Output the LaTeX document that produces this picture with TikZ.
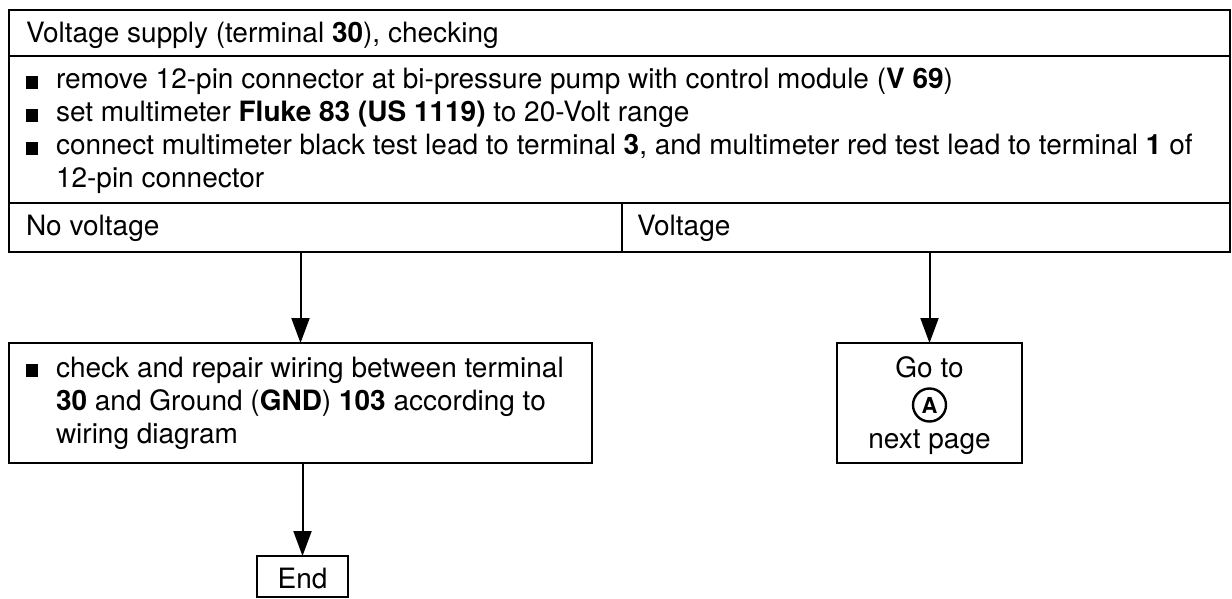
\documentclass[tikz,border=0pt]{standalone}
\usepackage{fontspec}
\setmainfont{TeX Gyre Heros}
\usetikzlibrary{arrows.meta}
\newcommand\blt{\rule{6pt}{6.4pt}\hspace{9pt}}
\begin{document}
\begin{tikzpicture}[x=0.5pt,y=-0.5pt,
  box/.style={draw, line width=1pt, inner sep=0pt, outer sep=0pt},
  txt/.style={inner sep=0pt, outer sep=0pt, anchor=base west, font=\fontsize{14}{16}\selectfont},
  ctxt/.style={inner sep=0pt, outer sep=0pt, anchor=base, font=\fontsize{14}{16}\selectfont},
  arr/.style={line width=1pt, -{Triangle[length=12.5pt,width=9pt]}}]
\useasboundingbox (0,0) rectangle (1232,599);
% boxes (x1,y1)-(x2,y2) in px
\node[box, minimum width=610.5pt, minimum height=23pt] (title) at (619.5,33) {};
\node[box, minimum width=610.5pt, minimum height=73.5pt] (instr) at (619.5,129.5) {};
\node[box, minimum width=306.5pt, minimum height=24.5pt] (nov) at (315.5,227.5) {};
\node[box, minimum width=304pt, minimum height=24.5pt] (vol) at (926,227.5) {};
\node[box, minimum width=291.5pt, minimum height=60pt] (chk) at (300.5,403) {};
\node[box, minimum width=92.5pt, minimum height=60pt] (goto) at (929.5,403) {};
\node[box, minimum width=45.5pt, minimum height=20.5pt] (end) at (302.5,576.5) {};
% texts
\node[txt] (t1) at (26,43) {Voltage supply (terminal \textbf{30}), checking};
\node[txt] (b1) at (26,89) {\blt remove 12-pin connector at bi-pressure pump with control module (\textbf{V 69})};
\node[txt] (b2) at (26,122) {\blt set multimeter \textbf{Fluke 83 (US 1119)} to 20-Volt range};
\node[txt] (b3) at (26,155) {\blt connect multimeter black test lead to terminal \textbf{3}, and multimeter red test lead to terminal \textbf{1} of};
\node[txt] (b3b) at (56,188) {12-pin connector};
\node[txt] (tnov) at (26,235) {No voltage};
\node[txt] (tvol) at (637,235) {Voltage};
\node[txt] (c1) at (26,377) {\blt check and repair wiring between terminal};
\node[txt] (c2) at (56,410) {\textbf{30} and Ground (\textbf{GND}) \textbf{103} according to};
\node[txt] (c3) at (56,443) {wiring diagram};
\node[ctxt] (g1) at (929.5,377) {Go to};
\node[circle, draw, line width=1.2pt, minimum size=16.5pt, inner sep=0pt, font=\fontsize{11}{12}\selectfont\bfseries] (ga) at (929.5,405) {A};
\node[ctxt] (g3) at (929.5,448) {next page};
\node[ctxt] (te) at (302.5,588) {End};
% connectors
\draw[arr] (chk.north |- nov.south) -- (chk.north);
\draw[arr] (goto.north |- vol.south) -- (goto.north);
\draw[arr] (chk.south -| end.north) -- (end.north);
\end{tikzpicture}
\end{document}
